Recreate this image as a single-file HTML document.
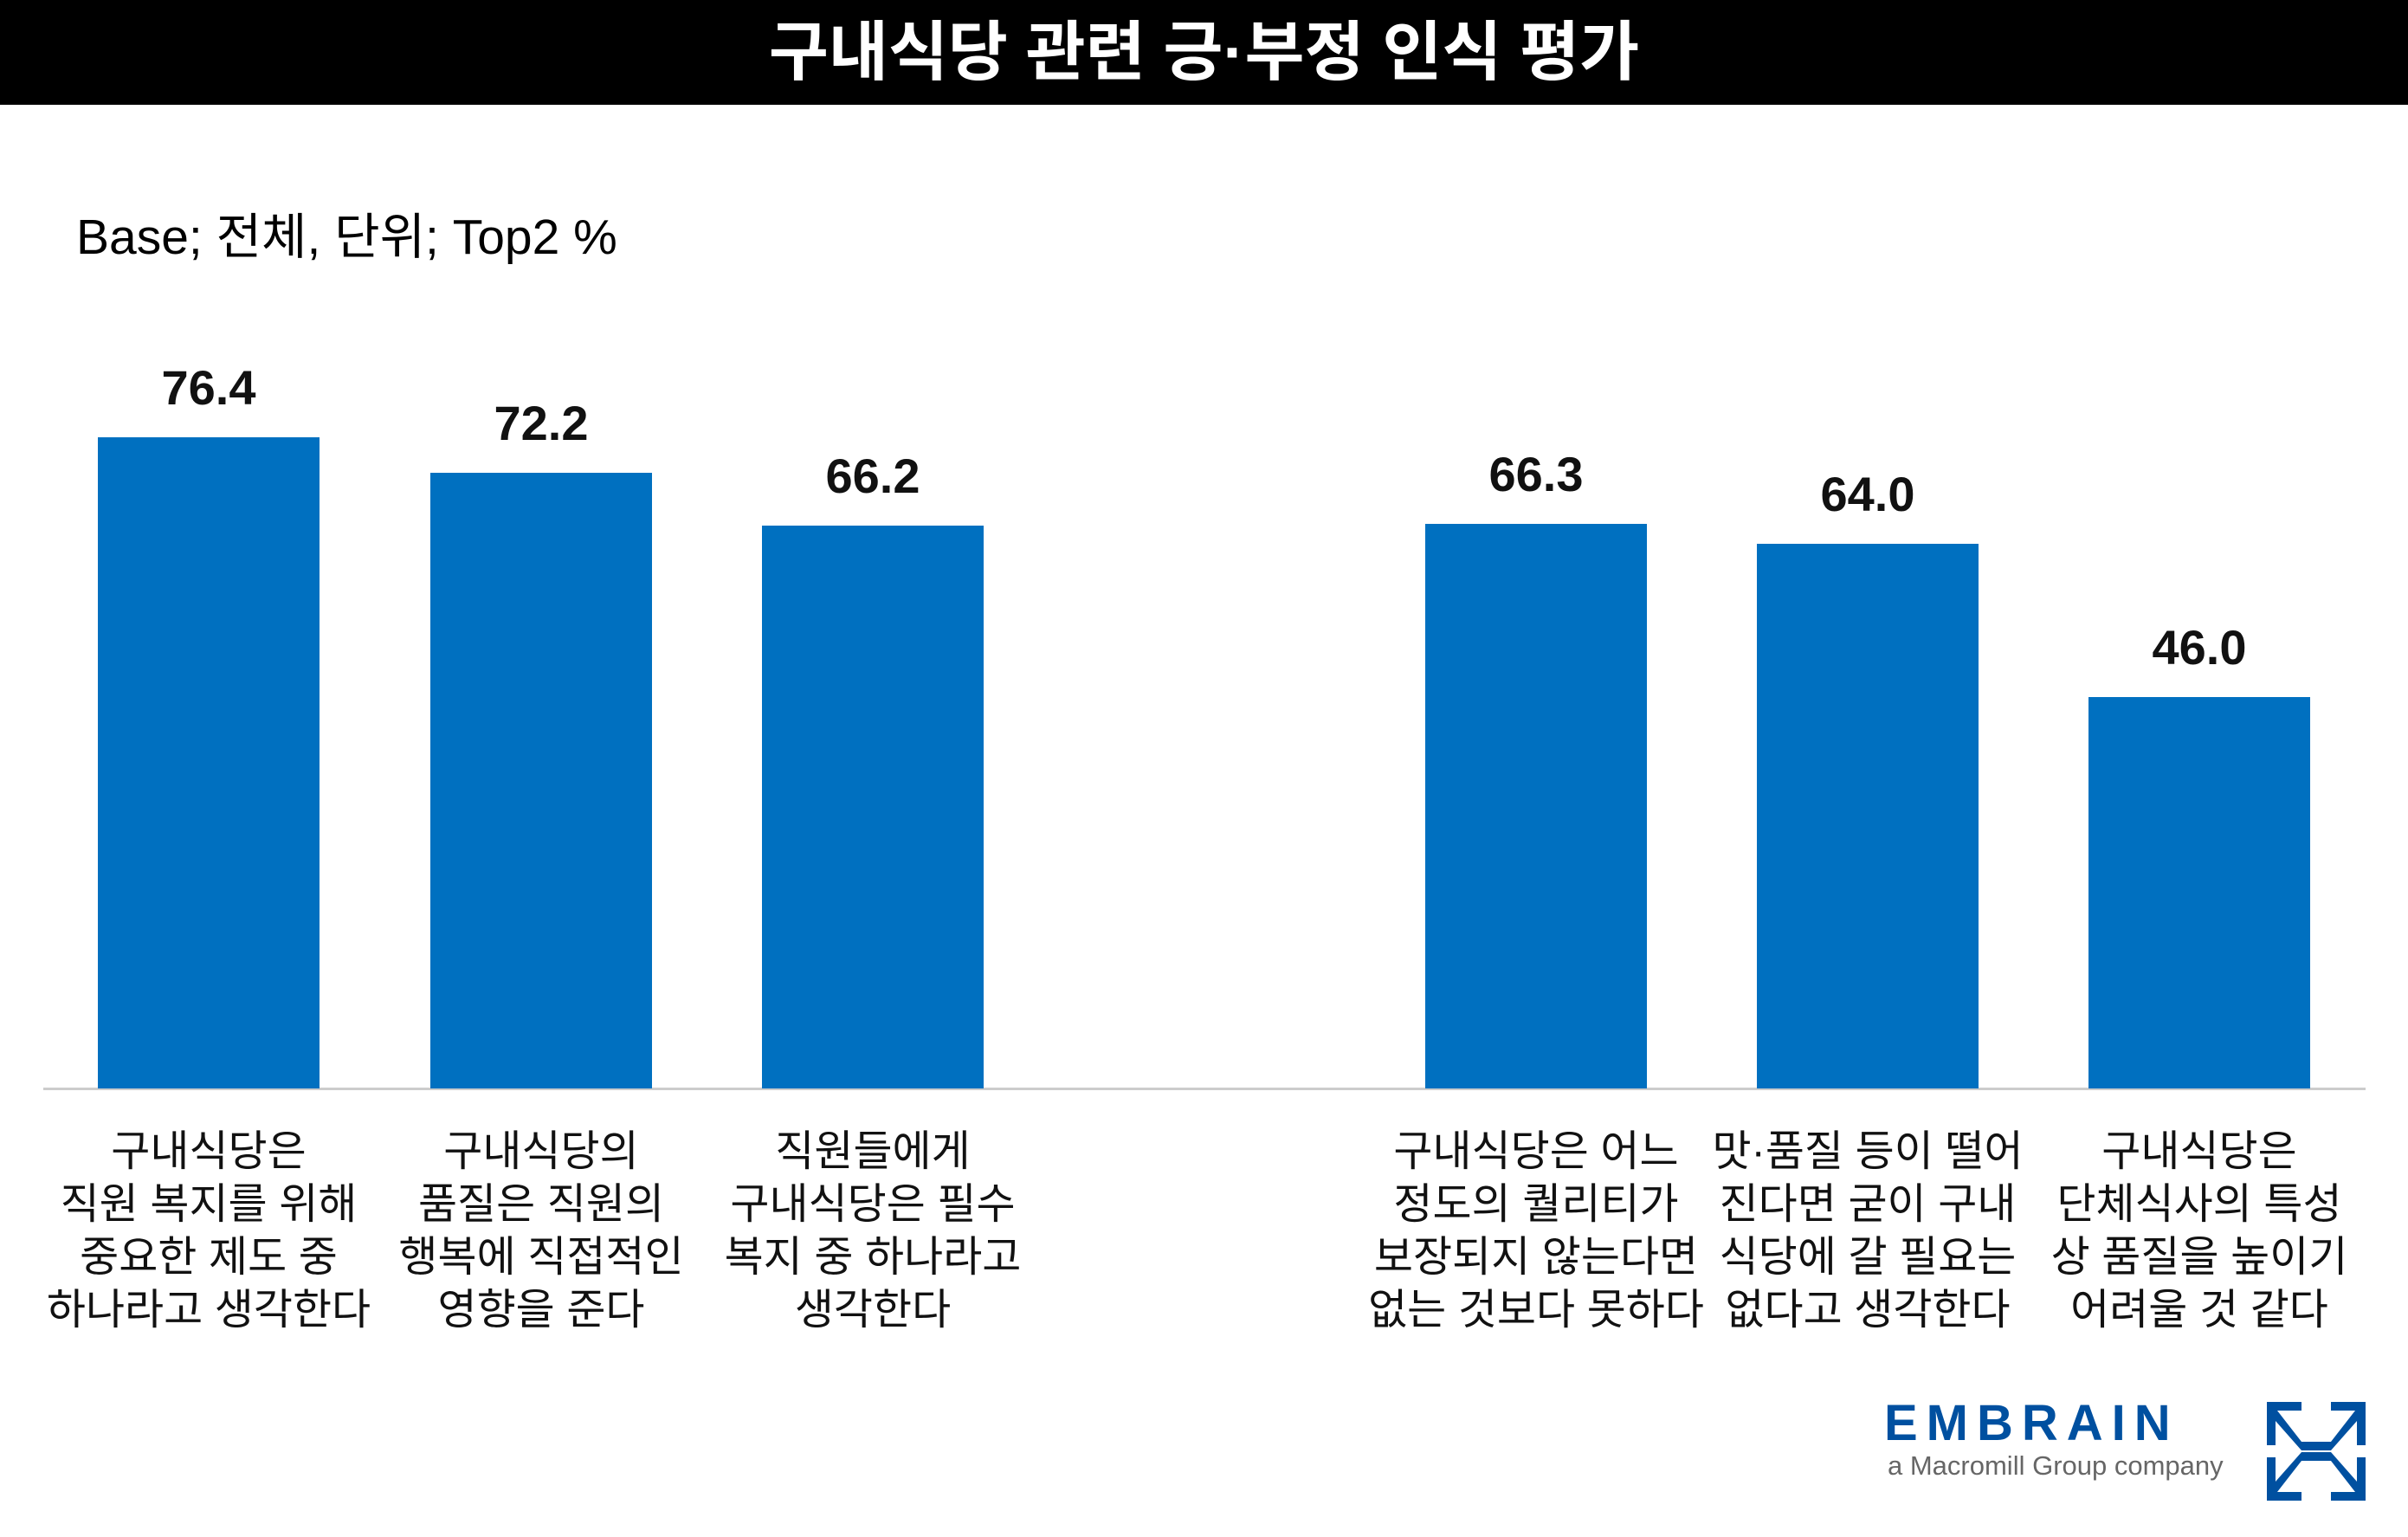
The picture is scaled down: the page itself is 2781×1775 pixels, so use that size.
<!DOCTYPE html>
<html><head><meta charset="utf-8"><style>
body{margin:0;width:2781px;height:1775px;background:#fff;position:relative;overflow:hidden;font-family:"Liberation Sans","Noto Sans CJK KR",sans-serif;}
.t{position:absolute;left:0;top:0;width:2781px;height:121px;background:#000;color:#fff;font-size:75px;font-weight:bold;text-align:center;line-height:121px;}
.b{position:absolute;background:#0070C0;width:256px;}
.v{position:absolute;width:300px;text-align:center;font-size:56px;font-weight:bold;color:#111;}
.c{position:absolute;width:400px;text-align:center;font-size:49px;line-height:61px;color:#111;top:1300px;}
</style></head><body>
<div class="t">구내식당 관련 긍·부정 인식 평가</div>
<div style="position:absolute;left:88px;top:228px;font-size:57px;">Base; 전체, 단위; Top2 %</div>
<div style="position:absolute;left:50px;top:1256px;width:2682px;height:3px;background:#ccc"></div>

<div class="b" style="left:113px;top:505px;height:752px"></div>
<div class="b" style="left:497px;top:546px;height:711px"></div>
<div class="b" style="left:880px;top:607px;height:650px"></div>
<div class="b" style="left:1646px;top:605px;height:652px"></div>
<div class="b" style="left:2029px;top:628px;height:629px"></div>
<div class="b" style="left:2412px;top:805px;height:452px"></div>

<div class="v" style="left:91px;top:415px">76.4</div>
<div class="v" style="left:475px;top:456px">72.2</div>
<div class="v" style="left:858px;top:517px">66.2</div>
<div class="v" style="left:1624px;top:515px">66.3</div>
<div class="v" style="left:2007px;top:538px">64.0</div>
<div class="v" style="left:2390px;top:715px">46.0</div>

<div class="c" style="left:41px">구내식당은<br>직원 복지를 위해<br>중요한 제도 중<br>하나라고 생각한다</div>
<div class="c" style="left:425px">구내식당의<br>품질은 직원의<br>행복에 직접적인<br>영향을 준다</div>
<div class="c" style="left:808px">직원들에게<br>구내식당은 필수<br>복지 중 하나라고<br>생각한다</div>
<div class="c" style="left:1574px">구내식당은 어느<br>정도의 퀄리티가<br>보장되지 않는다면<br>없는 것보다 못하다</div>
<div class="c" style="left:1957px">맛·품질 등이 떨어<br>진다면 굳이 구내<br>식당에 갈 필요는<br>없다고 생각한다</div>
<div class="c" style="left:2340px">구내식당은<br>단체식사의 특성<br>상 품질을 높이기<br>어려울 것 같다</div>

<div style="position:absolute;left:2176px;top:1610px;font-size:58px;font-weight:bold;color:#0050A0;letter-spacing:10px">EMBRAIN</div>
<div style="position:absolute;left:2180px;top:1675px;font-size:31px;color:#666">a Macromill Group company</div>
<svg style="position:absolute;left:2618px;top:1619px" width="114" height="114" viewBox="0 0 114 114">
<g fill="#0050A0">
<path d="M0 0H40V10H12L40 46H74L102 10H74V0H114V50H104V22L74 56H40L10 22V50H0Z"/>
<path d="M0 114H40V104H12L40 68H74L102 104H74V114H114V64H104V92L74 58H40L10 92V64H0Z"/>
</g></svg>
</body></html>
